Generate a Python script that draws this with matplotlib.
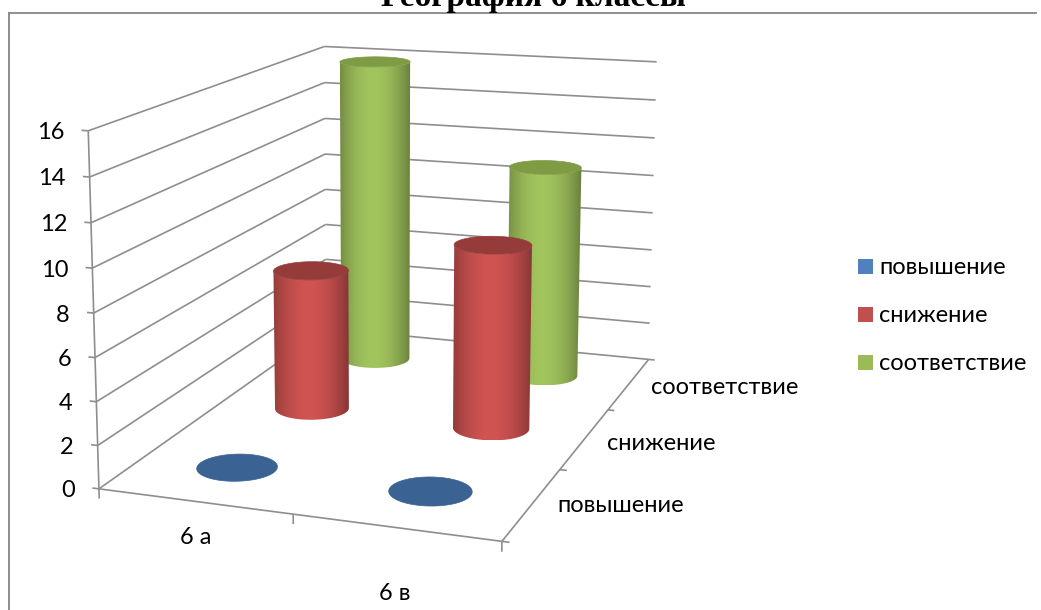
import numpy as np
import matplotlib
matplotlib.use('Agg')
import matplotlib.pyplot as plt
from matplotlib.patches import Rectangle, Polygon

# chart data
title = 'География 6 классы'
classes = ['6 а', '6 в']
series = ['повышение', 'снижение', 'соответствие']
povyshenie = [0, 0]
snizhenie = [7, 9]
sootvetstvie = [16, 11]
y_ticks = [0, 2, 4, 6, 8, 10, 12, 14, 16]

# colours
legend_colors = ['#4F81BD', '#C0504D', '#9BBB59']
side_colors = ['#4F81BD', '#D05452', '#A2C55E']
top_colors = ['#3A6292', '#953C3A', '#7F9C45']
grid_color = '#8E8E8E'
text_font = ['Lato', 'Noto Sans', 'DejaVu Sans']
text_size = 17

# box corners (x, depth, value) -> pixel, used to fit the perspective
corners_3d = [(0, 0, 0), (2, 0, 0), (2, 3, 0), (0, 3, 0), (0, 0, 16), (0, 3, 16), (2, 3, 16)]
corners_px = [(101, 488), (501, 543), (650, 357), (324, 330), (87, 130), (326, 46), (656, 63)]

rows = []
for (X, Y, Z), (u, v) in zip(corners_3d, corners_px):
    rows.append([X, Y, Z, 1, 0, 0, 0, 0, -u * X, -u * Y, -u * Z, -u])
    rows.append([0, 0, 0, 0, X, Y, Z, 1, -v * X, -v * Y, -v * Z, -v])
P = np.linalg.svd(np.array(rows, dtype=float))[2][-1].reshape(3, 4)


def project(x, y, z):
    x, y, z = np.broadcast_arrays(x, y, z)
    pts = np.stack([x, y, z, np.ones_like(x)], axis=0).astype(float)
    u, v, w = P @ pts.reshape(4, -1)
    return (u / w).reshape(x.shape), (v / w).reshape(x.shape)


def line3d(ax, a, b, lw=1.2):
    xs, ys = project(np.array([a[0], b[0]]), np.array([a[1], b[1]]), np.array([a[2], b[2]]))
    ax.plot(xs, ys, color=grid_color, lw=lw, solid_capstyle='butt', zorder=1)


def cylinder(ax, cx, cy, value, side, top, zorder):
    radius = 0.198
    theta = np.linspace(0, 2 * np.pi, 181)
    xs = cx + radius * np.cos(theta)
    ys = cy + radius * np.sin(theta)
    bu, bv = project(xs, ys, 0 * xs)
    tu, tv = project(xs, ys, 0 * xs + value)
    if value > 0:
        # body outline: front arc of the base, then the top ellipse
        front = bv >= bv.mean()
        order = np.argsort(bu[front])
        outline = list(zip(bu[front][order], bv[front][order]))
        back = np.argsort(-tu[front])
        outline += list(zip(tu[front][back], tv[front][back]))
        # horizontal shading across the body, clipped to the outline
        low, high = min(bu.min(), tu.min()), max(bu.max(), tu.max())
        t = np.linspace(0, 1, 256)
        shade = 1 - 0.36 * np.abs((t - 0.47) / 0.53) ** 1.9
        img = (shade[None, :, None] * np.array(matplotlib.colors.to_rgb(side))).clip(0, 1)
        im = ax.imshow(img, extent=(low, high, bv.max(), tv.min()), aspect='auto',
                       interpolation='bilinear', zorder=zorder)
        clip = Polygon(outline, closed=True, transform=ax.transData, fill=False, lw=0)
        ax.add_patch(clip)
        im.set_clip_path(clip)
    ax.fill(tu, tv, color=top, lw=0.5, zorder=zorder + 0.1)


fig = plt.figure(figsize=(10.41, 6.10), dpi=100)
ax = fig.add_axes([0, 0, 1, 1])
ax.set_xlim(0, 1041)
ax.set_ylim(610, 0)
ax.set_autoscale_on(False)
ax.axis('off')

# chart frame
ax.plot([9, 9], [610, 13], color='#868686', lw=1.3, zorder=1)
ax.plot([9, 1036], [13, 13], color='#868686', lw=1.3, zorder=1)

# title, cut off by the top of the page as in the source
ax.text(533, 6, title, family='Liberation Serif', weight='bold', fontsize=24, ha='center', va='baseline', color='black')

# walls and floor grid
for val in y_ticks:
    line3d(ax, (0, 0, val), (0, 3, val))
    line3d(ax, (0, 3, val), (2, 3, val))
    line3d(ax, (-0.035, 0, val), (0, 0, val))
    u, v = project(0, 0, val)
    ax.text(float(u) - 24, float(v) + 2, str(val), family=text_font, fontsize=text_size, ha='right', va='center')
line3d(ax, (0, 0, 0), (0, 0, 16))
line3d(ax, (0, 0, 0), (2, 0, 0))
line3d(ax, (2, 0, 0), (2, 3, 0))
for i in range(3):
    line3d(ax, (i, 0, 0), (i, 0, -0.45))
for i in range(4):
    line3d(ax, (2, i, 0), (2.035, i, 0))

# category labels
ax.text(196, 537, classes[0], family=text_font, fontsize=text_size, ha='center', va='center')
ax.text(395, 593, classes[1], family=text_font, fontsize=text_size, ha='center', va='center')
ax.text(557, 506, series[0], family=text_font, fontsize=text_size, ha='left', va='center')
ax.text(607, 443, series[1], family=text_font, fontsize=text_size, ha='left', va='center')
ax.text(651, 387, series[2], family=text_font, fontsize=text_size, ha='left', va='center')

# cylinders, back row first
all_values = [povyshenie, snizhenie, sootvetstvie]
for s in [2, 1, 0]:
    for c in range(len(classes)):
        cylinder(ax, c + 0.5, s + 0.5, all_values[s][c], side_colors[s], top_colors[s], 5 + (2 - s))

# legend
for i, name in enumerate(series):
    y0 = 259 + 48 * i
    ax.add_patch(Rectangle((858, y0), 15, 15, color=legend_colors[i], lw=0, zorder=3))
    ax.text(879, y0 + 8, name, family=text_font, fontsize=text_size, ha='left', va='center')

fig.savefig('out.png', dpi=100)
